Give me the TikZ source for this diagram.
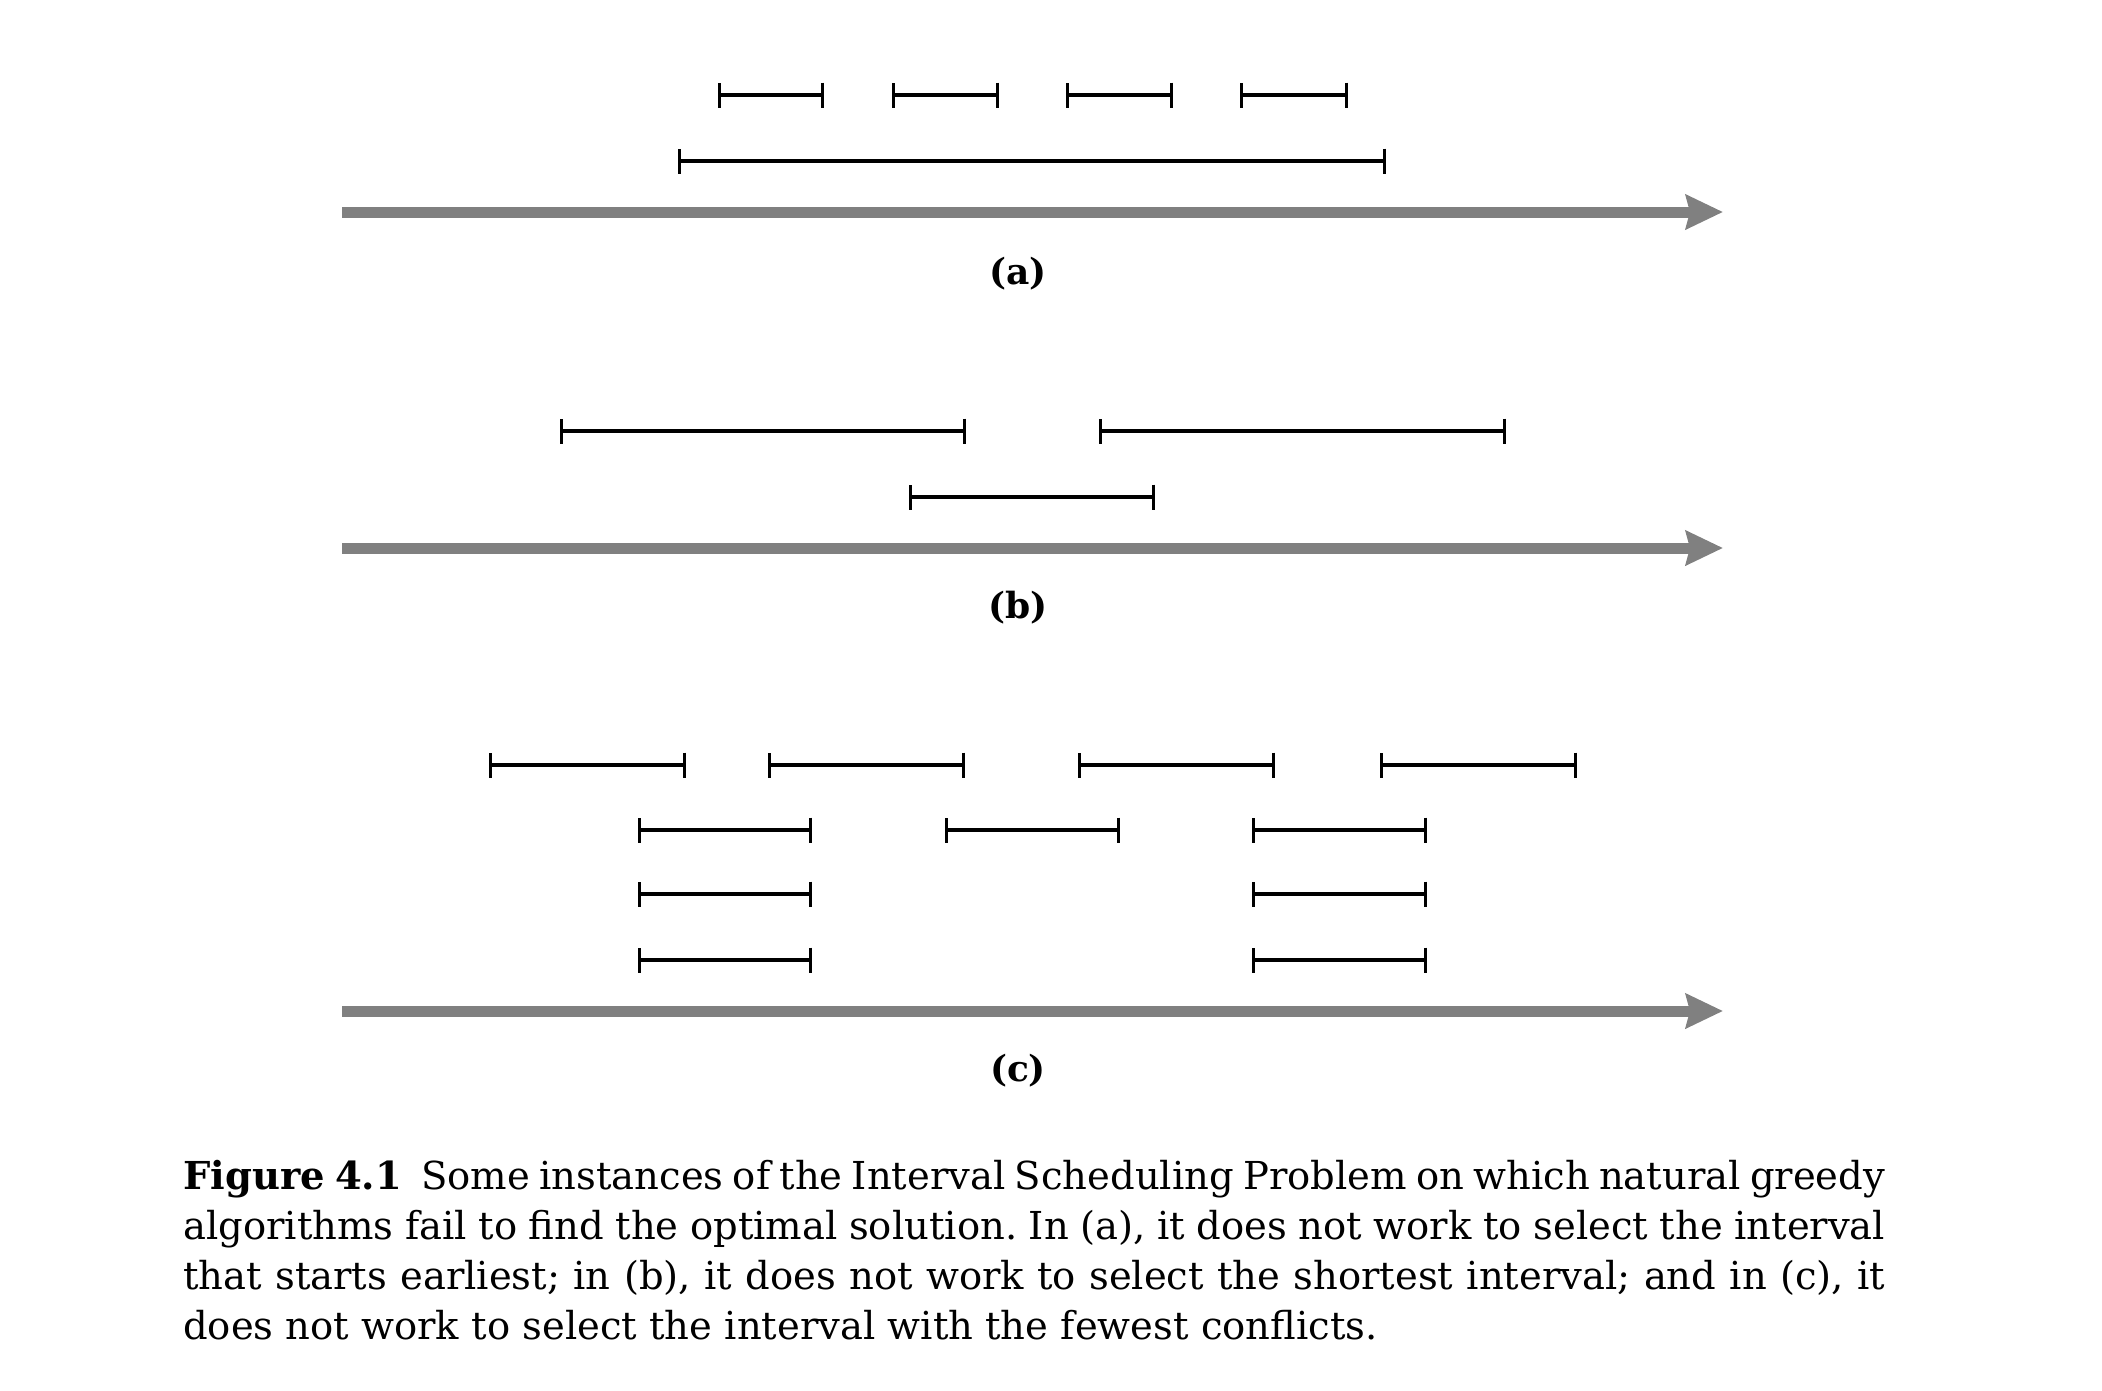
\documentclass[tikz,border=0pt]{standalone}
\usepackage{fontspec}
\setmainfont{DejaVu Serif}
\usetikzlibrary{arrows.meta}
\definecolor{axisgray}{RGB}{128,128,128}
\begin{document}
\begin{tikzpicture}[x=1pt,y=-1pt,
  ival/.style={line width=3.8pt, {Bar[width=25pt,line width=3.2pt]}-{Bar[width=25pt,line width=3.2pt]}},
  axisline/.style={line width=11pt, draw=axisgray, -{Stealth[length=37pt,width=34pt,inset=4pt,fill=axisgray]}},
  lab/.style={font=\fontsize{36}{40}\selectfont\bfseries, inner sep=0pt},
  captext/.style={font=\fontsize{38.5}{50}\selectfont\frenchspacing, inner sep=0pt, align=left, anchor=north west}
]
\useasboundingbox (0,0) rectangle (2102,1390);
% (a)
\draw[ival] (718,95) -- (824,95);
\draw[ival] (892,95) -- (999,95);
\draw[ival] (1066,95) -- (1173,95);
\draw[ival] (1240,95) -- (1348,95);
\draw[ival] (678,161) -- (1386,161);
\coordinate (a0) at (342,212);
\coordinate (a1) at (1723,212);
\draw[axisline] (a0) -- (a1);
\node[lab] (la) at (1018,274) {(a)};
% (b)
\draw[ival] (560,431) -- (966,431);
\draw[ival] (1099,431) -- (1506,431);
\draw[ival] (909,497) -- (1155,497);
\coordinate (b0) at (342,548);
\coordinate (b1) at (1723,548);
\draw[axisline] (b0) -- (b1);
\node[lab] (lb) at (1018,608) {(b)};
% (c)
\draw[ival] (489,765) -- (686,765);
\draw[ival] (768,765) -- (965,765);
\draw[ival] (1078,765) -- (1275,765);
\draw[ival] (1380,765) -- (1577,765);
\draw[ival] (638,830) -- (812,830);
\draw[ival] (945,830) -- (1120,830);
\draw[ival] (1252,830) -- (1427,830);
\draw[ival] (638,894) -- (812,894);
\draw[ival] (1252,894) -- (1427,894);
\draw[ival] (638,960) -- (812,960);
\draw[ival] (1252,960) -- (1427,960);
\coordinate (c0) at (342,1011);
\coordinate (c1) at (1723,1011);
\draw[axisline] (c0) -- (c1);
\node[lab] (lc) at (1018,1071) {(c)};
% caption
\node[captext] (caption) at (183,1160) {%
\makebox[1702pt][s]{\textbf{Figure~4.1}\hspace{0.5em}Some instances of the Interval Scheduling Problem on which natural greedy}\\
\makebox[1702pt][s]{algorithms fail to find the optimal solution. In (a), it does not work to select the interval}\\
\makebox[1702pt][s]{that starts earliest; in (b), it does not work to select the shortest interval; and in (c), it}\\
does not work to select the interval with the fewest conflicts.};
\end{tikzpicture}
\end{document}
